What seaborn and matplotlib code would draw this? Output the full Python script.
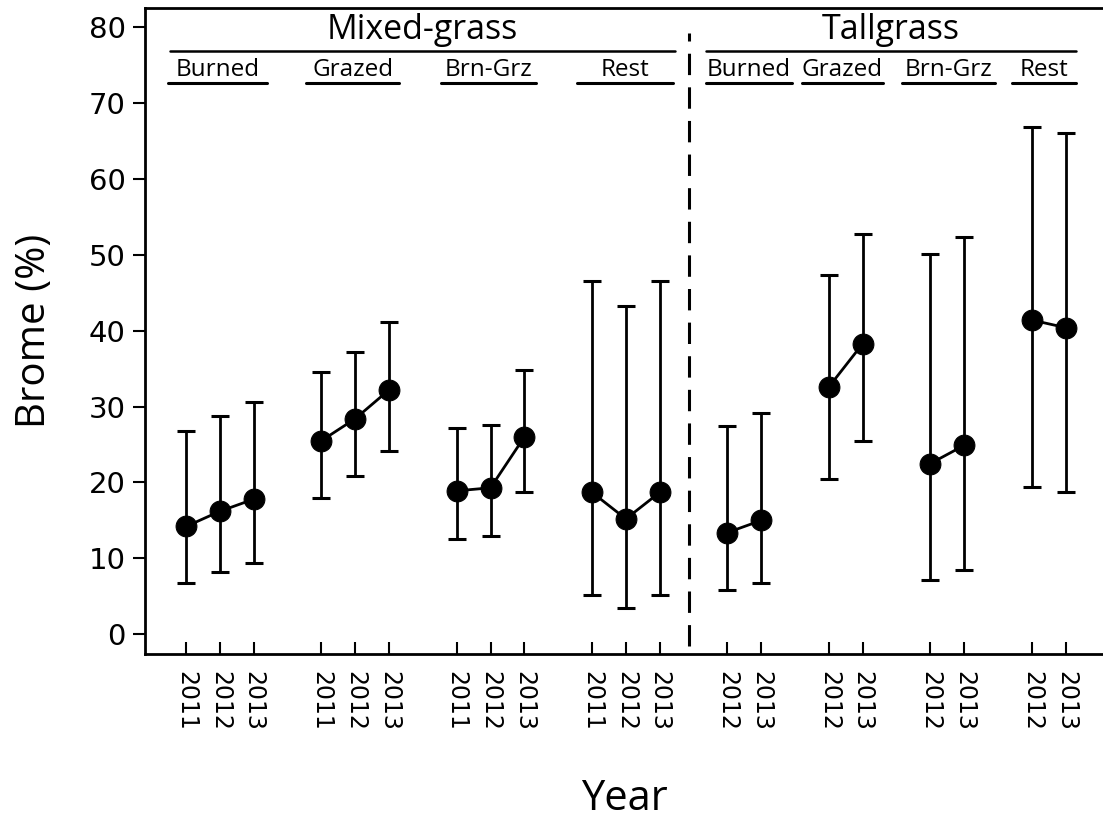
import numpy as np
import pandas as pd
import seaborn as sns
import matplotlib.pyplot as plt

# values
regions = ["Mixed-grass", "Tallgrass"]
treatments = ["Burned", "Grazed", "Brn-Grz", "Rest"]
mixed_years = [2011, 2012, 2013]
tall_years = [2012, 2013]

mixed_mean = [[14.2, 16.2, 17.8], [25.5, 28.4, 32.2], [18.9, 19.3, 26.0], [18.7, 15.2, 18.7]]
mixed_lo = [[6.7, 8.2, 9.4], [18.0, 20.9, 24.2], [12.6, 13.0, 18.7], [5.2, 3.4, 5.2]]
mixed_hi = [[26.8, 28.8, 30.6], [34.5, 37.2, 41.2], [27.2, 27.6, 34.8], [46.6, 43.3, 46.6]]

tall_mean = [[13.4, 15.0], [32.6, 38.3], [22.5, 24.9], [41.4, 40.4]]
tall_lo = [[5.8, 6.8], [20.5, 25.5], [7.2, 8.5], [19.4, 18.7]]
tall_hi = [[27.5, 29.2], [47.3, 52.7], [50.1, 52.4], [66.8, 66.0]]

rows = []
pos = 0
for reg, years, mean, lo, hi, step in [
        (regions[0], mixed_years, mixed_mean, mixed_lo, mixed_hi, 4),
        (regions[1], tall_years, tall_mean, tall_lo, tall_hi, 3)]:
    for i, trt in enumerate(treatments):
        for j, yr in enumerate(years):
            rows.append(dict(region=reg, trt=trt, grp=reg + trt, year=yr,
                             pos=pos + j, mean=mean[i][j], lo=lo[i][j], hi=hi[i][j]))
        pos += step
    if reg == regions[0]:
        pos = 16
df = pd.DataFrame(rows)

sns.set_theme(style="ticks")
plt.rcParams['font.family'] = ['Open Sans', 'DejaVu Sans']
for k in ["text.color", "axes.labelcolor", "xtick.color", "ytick.color"]:
    plt.rcParams[k] = "black"

fig = plt.figure(figsize=(11.03, 8.18), dpi=100)
ax = fig.add_axes([0.1315, 0.2005, 0.8685, 0.7895])

ax.errorbar(df["pos"], df["mean"], yerr=[df["mean"] - df["lo"], df["hi"] - df["mean"]],
            fmt="none", ecolor="black", elinewidth=2, capsize=6.5, capthick=2.2, zorder=2)
sns.lineplot(data=df, x="pos", y="mean", units="grp", estimator=None, color="black",
             linewidth=2, marker="o", markersize=15, markeredgecolor="black",
             legend=False, ax=ax, zorder=3)

ax.set_xlim(-1.21, 27.1)
ax.set_ylim(-2.6, 82.5)
ax.set_yticks(range(0, 81, 10))
ax.set_yticklabels([str(v) for v in range(0, 81, 10)], family="DejaVu Sans", fontsize=21)
ax.set_xticks(df["pos"])
ax.set_xticklabels(df["year"].astype(str), rotation=270, family="DejaVu Sans", fontsize=17)
ax.tick_params(axis="y", direction="out", length=9, width=1.5, pad=5)
ax.tick_params(axis="x", direction="in", length=9, width=1.5, pad=12)
for s in ["left", "bottom", "top"]:
    ax.spines[s].set_linewidth(2)
    ax.spines[s].set_color("black")
ax.spines["right"].set_visible(False)

ax.set_xlabel("Year", fontsize=30, labelpad=34)
ax.set_ylabel("Brome (%)", fontsize=29, labelpad=24)

# dashed divider between regions
ax.plot([14.87, 14.87], [-1.5, 79.2], color="black", lw=2.2, ls=(0, (7, 4)))

# header brackets (x-spans of the underlines)
sub_spans = {
    regions[0]: [(-0.52, 2.4), (3.55, 6.3), (7.55, 10.35), (11.55, 14.4)],
    regions[1]: [(15.36, 17.9), (18.2, 20.6), (21.15, 23.9), (24.4, 26.3)],
}
top_spans = {regions[0]: (-0.47, 14.45), regions[1]: (15.36, 26.3)}
for reg in regions:
    x0, x1 = top_spans[reg]
    ax.plot([x0, x1], [76.9, 76.9], color="black", lw=1.8)
    ax.text((x0 + x1) / 2, 78.5, reg, ha="center", va="baseline", fontsize=24.5)
    for trt, (a, b) in zip(treatments, sub_spans[reg]):
        ax.plot([a, b], [72.6, 72.6], color="black", lw=2.2)
        ax.text((a + b) / 2, 73.6, trt, ha="center", va="baseline", fontsize=17.5)

fig.savefig("out.png", dpi=100)
